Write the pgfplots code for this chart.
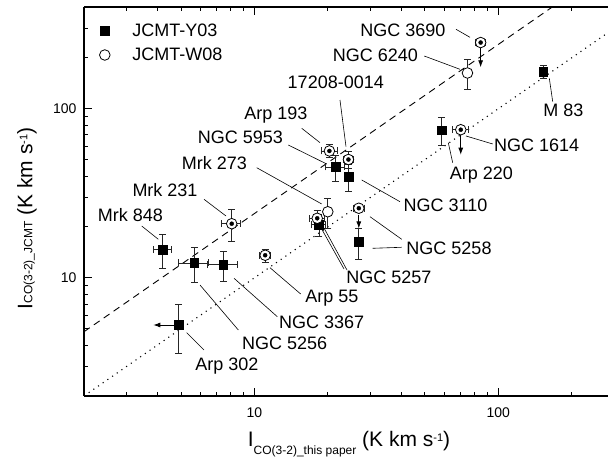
\documentclass[border=0pt]{standalone}
\usepackage{pgfplots}
\pgfplotsset{compat=1.18}
\usepackage{pgfplotstable}
\usepackage{fontspec}
\setmainfont{Liberation Sans}
\usetikzlibrary{arrows.meta}

\newcommand\lbl{\fontsize{18}{20}\selectfont}
\newcommand\sub[1]{{\fontsize{12}{12}\selectfont #1}}
\newcommand\supr[1]{\raisebox{5pt}{\fontsize{11}{11}\selectfont #1}}

% JCMT-Y03: x, y, x error, y error
\pgfplotstableread{
x     y      ex    ey
4.20  14.7   0.36  3.3
5.67  12.25  0.80  2.9
7.46  11.97  1.05  2.4
4.89  5.26   0     1.7
21.5  45.3   2.0   8.0
24.3  39.6   0     7.0
18.4  20.6   1.2   3.0
26.8  16.3   0     3.4
153   165.7  0     15
58.5  74.5   0     14
}\yzerothree

% JCMT-W08: x, y, x error, y error; yx repeats y where an x error exists
\pgfplotstableread{
x     y      ex    ey    yx
8.07  20.9   0.72  4.5   20.9
11.07 13.6   0.55  1.2   13.6
20.3  56.3   1.55  5.0   56.3
24.3  50.1   1.1   5.5   50.1
20.0  24.6   0     5.0   nan
18.1  22.5   1.3   2.5   22.5
26.8  25.8   1.4   0     25.8
84.7  246.5  4.0   0     246.5
74.8  162.8  0     32    nan
70.2  75.2   5.3   0     75.2
}\wzeroeight

\begin{document}
\begin{tikzpicture}
\begin{axis}[
  xmode=log, ymode=log,
  scale only axis, width=524pt, height=389pt,
  xmin=2, xmax=282, ymin=2, ymax=400,
  axis x line*=box, axis y line*=left,
  axis line style={line width=1.3pt},
  tick align=inside,
  xtick={10,100}, xticklabels={10,100},
  ytick={10,100}, yticklabels={10,100},
  minor xtick={3,4,5,6,7,8,9,20,30,40,50,60,70,80,90,200},
  minor ytick={3,4,5,6,7,8,9,20,30,40,50,60,70,80,90,200,300},
  major tick length=8pt, minor tick length=4.5pt,
  every tick/.style={line width=1pt, black},
  /pgf/number format/assume math mode=true,
  tick label style={font=\fontsize{14}{16}\selectfont},
  xticklabel style={yshift=-8pt},
  yticklabel style={xshift=-4pt},
  xlabel={I\raisebox{-8.3pt}{\sub{CO(3-2)\_this paper}} (K km s\supr{-1})},
  ylabel={I\sub{CO(3-2)\_JCMT} (K km s\supr{-1})},
  label style={font=\fontsize{21}{24}\selectfont},
  xlabel style={at={(rel axis cs:0.5057,-0.1303)}, anchor=base},
  ylabel style={at={(rel axis cs:-0.0987,0.4563)}, anchor=base},
  legend style={at={(rel axis cs:0.0292,0.9581)}, anchor=north west,
    draw=none, fill=none, inner sep=0pt, row sep=10.4pt, column sep=22.3pt,
    font=\lbl, nodes={inner sep=0pt}},
  legend cell align=left,
  error bars/error bar style={line width=0.8pt, black!85},
  error bars/error mark options={rotate=90, mark size=3.5pt, line width=0.8pt, black!85},
]
% reference relations
\addplot[forget plot, black, line width=0.9pt, dash pattern=on 7pt off 5pt] coordinates {(2,4.8) (170,408)};
\addplot[forget plot, black, line width=1.1pt, dash pattern=on 1.1pt off 4.6pt] coordinates {(2,2) (282,282)};

% JCMT-Y03
\addplot[only marks, mark=square*, mark size=4.3pt, black,
  error bars/.cd, x dir=both, x explicit, y dir=both, y explicit]
  table[x=x, y=y, x error=ex, y error=ey] {\yzerothree};
\addlegendentry{JCMT-Y03}

% JCMT-W08
\addplot[only marks, mark=*, mark size=5.3pt, black, mark options={fill=white, line width=0.8pt},
  error bars/.cd, y dir=both, y explicit]
  table[x=x, y=y, y error=ey] {\wzeroeight};
\addlegendentry{JCMT-W08}
\addplot[forget plot, only marks, mark=none,
  error bars/.cd, x dir=both, x explicit]
  table[x=x, y=yx, x error=ex] {\wzeroeight};

% upper limits
\addplot[forget plot, black, line width=0.8pt, -{Latex[length=7pt,width=5pt]}] coordinates {(84.7,246.5) (84.7,176)};
\addplot[forget plot, black, line width=0.8pt, -{Latex[length=7pt,width=5pt]}] coordinates {(70.2,69.7) (70.2,53.5)};
\addplot[forget plot, black, line width=0.8pt, -{Latex[length=7pt,width=5pt]}] coordinates {(26.8,23.6) (26.8,19.6)};
\addplot[forget plot, black, line width=0.8pt, -{Latex[length=7pt,width=5pt]}] coordinates {(4.89,5.26) (3.85,5.26)};

% source names and leaders
\begin{scope}[line width=0.6pt]
\draw (rel axis cs:0.4155,0.6882) -- (rel axis cs:0.4504,0.6512);
\draw (rel axis cs:0.3899,0.6452) -- (rel axis cs:0.4632,0.5964);
\draw (rel axis cs:0.3296,0.5869) -- (rel axis cs:0.4536,0.4936);
\draw (rel axis cs:0.229,0.5057) -- (rel axis cs:0.271,0.4627);
\draw (rel axis cs:0.1101,0.437) -- (rel axis cs:0.1418,0.4028);
\draw (rel axis cs:0.4885,0.7609) -- (rel axis cs:0.5,0.6409);
\draw (rel axis cs:0.7099,0.9427) -- (rel axis cs:0.7366,0.9221);
\draw (rel axis cs:0.6494,0.874) -- (rel axis cs:0.7176,0.8398);
\draw (rel axis cs:0.888,0.8167) -- (rel axis cs:0.8945,0.7566);
\draw (rel axis cs:0.729,0.6684) -- (rel axis cs:0.78,0.6478);
\draw (rel axis cs:0.6952,0.6512) -- (rel axis cs:0.7036,0.5997);
\draw (rel axis cs:0.53,0.5553) -- (rel axis cs:0.603,0.4995);
\draw (rel axis cs:0.5458,0.4609) -- (rel axis cs:0.6063,0.4028);
\draw (rel axis cs:0.551,0.3797) -- (rel axis cs:0.6063,0.3823);
\draw (rel axis cs:0.4504,0.437) -- (rel axis cs:0.4962,0.3265);
\draw (rel axis cs:0.458,0.4319) -- (rel axis cs:0.5019,0.3239);
\draw (rel axis cs:0.355,0.3298) -- (rel axis cs:0.4135,0.2622);
\draw (rel axis cs:0.2863,0.3026) -- (rel axis cs:0.3689,0.2039);
\draw (rel axis cs:0.2214,0.2853) -- (rel axis cs:0.2945,0.1697);
\draw (rel axis cs:0.196,0.1627) -- (rel axis cs:0.229,0.1183);
\end{scope}
\begin{scope}[every node/.style={font=\lbl, anchor=base, inner sep=0pt}]
\node at (rel axis cs:0.366,0.7095) {Arp 193};
\node at (rel axis cs:0.2983,0.6496) {NGC 5953};
\node at (rel axis cs:0.249,0.581) {Mrk 273};
\node at (rel axis cs:0.1546,0.5123) {Mrk 231};
\node at (rel axis cs:0.0884,0.4481) {Mrk 848};
\node at (rel axis cs:0.4805,0.791) {17208-0014};
\node at (rel axis cs:0.6088,0.9236) {NGC 3690};
\node at (rel axis cs:0.5563,0.8594) {NGC 6240};
\node at (rel axis cs:0.9147,0.718) {M 83};
\node at (rel axis cs:0.8639,0.628) {NGC 1614};
\node at (rel axis cs:0.7582,0.5553) {Arp 220};
\node at (rel axis cs:0.6899,0.4738) {NGC 3110};
\node at (rel axis cs:0.6966,0.3625) {NGC 5258};
\node at (rel axis cs:0.5817,0.2897) {NGC 5257};
\node at (rel axis cs:0.4733,0.24) {Arp 55};
\node at (rel axis cs:0.4536,0.174) {NGC 3367};
\node at (rel axis cs:0.383,0.1183) {NGC 5256};
\node at (rel axis cs:0.2729,0.065) {Arp 302};
\end{scope}
\end{axis}
\pgfresetboundingbox
\useasboundingbox ([shift={(-84pt,-77pt)}]current axis.south west) rectangle ([shift={(0pt,7pt)}]current axis.north east);
\end{tikzpicture}
\end{document}
